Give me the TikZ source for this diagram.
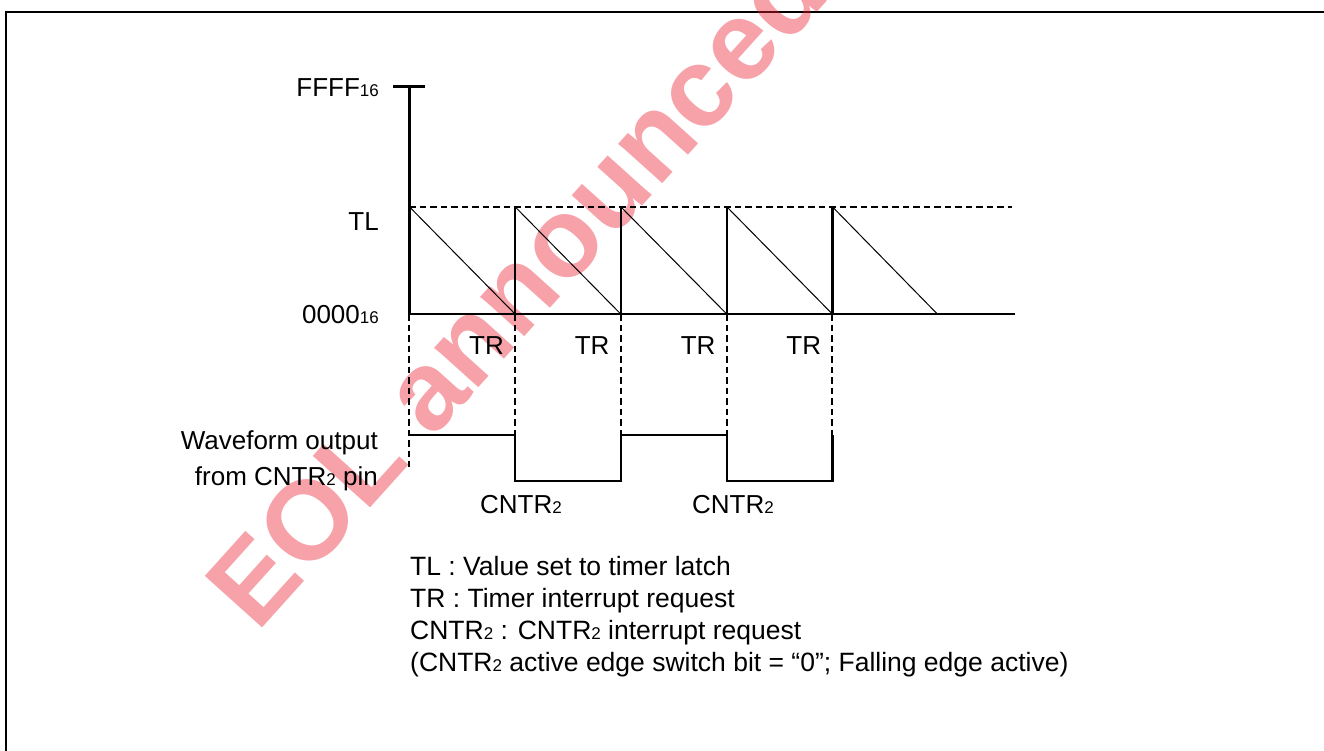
\documentclass[tikz,border=0pt]{standalone}
\usepackage{fontspec}
\setmainfont{Liberation Sans}
\newcommand{\sbs}[1]{{\fontsize{17}{17}\selectfont #1}}
\begin{document}
\begin{tikzpicture}[x=1pt,y=-1pt,
  lbl/.style={inner sep=0pt, font=\fontsize{26}{30}\selectfont},
  lgd/.style={inner sep=0pt, font=\fontsize{26.5}{30}\selectfont},
  solidln/.style={line width=2.4pt},
  thinln/.style={line width=1pt},
  dashln/.style={line width=2.2pt, dash pattern=on 6.5pt off 4pt},
  framel/.style={line width=2.6pt},
]
\useasboundingbox (0,0) rectangle (1324,751);
% frame
\coordinate (fbl) at (6,760);
\coordinate (ftl) at (6,12);
\coordinate (ftr) at (1335,12);
\draw[framel] (fbl) -- (ftl) -- (ftr);

% watermark
\node[inner sep=0pt, rotate=48, text={rgb,255:red,235;green,30;blue,50}, opacity=0.42,
      font=\bfseries\fontsize{112}{112}\selectfont] (wm) at (515,288) {EOL announced};

% coordinates
\foreach \i/\x in {0/409.3,1/515,2/620.7,3/726.7,4/832.3}{
  \coordinate (top\i) at (\x,206.7);
  \coordinate (bot\i) at (\x,314);
  \coordinate (hi\i) at (\x,435);
  \coordinate (lo\i) at (\x,480.7);
}
\coordinate (ffff) at (409.3,86.7);
\coordinate (tickL) at (393,86.7);
\coordinate (tickR) at (425,86.7);
\coordinate (tlend) at (1012,206.7);
\coordinate (baseend) at (1015,314);
\coordinate (sawend) at (937.3,314);
\coordinate (d0end) at (409.3,466.7);

% axis
\draw[solidln] (bot0) -- (ffff);
\draw[solidln] (tickL) -- (tickR);
\draw[dashln] (top0) -- (tlend);
\draw[solidln] (bot0) -- (baseend);

% sawtooth
\draw[thinln] (top0) -- (bot1);
\draw[thinln] (top1) -- (bot2);
\draw[thinln] (top2) -- (bot3);
\draw[thinln] (top3) -- (bot4);
\draw[thinln] (top4) -- (sawend);
\foreach \i in {1,2,3,4}{\draw[solidln] (bot\i) -- (top\i);}

% dashed verticals
\draw[dashln] (bot0) -- (d0end);
\foreach \i in {1,2,3,4}{\draw[dashln] (bot\i) -- (hi\i);}

% waveform
\draw[solidln] (hi0) -- (hi1) -- (lo1) -- (lo2) -- (hi2) -- (hi3) -- (lo3) -- (lo4) -- (hi4);

% axis labels
\node[lbl, anchor=base east] (lffff) at (379,97) {FFFF\sbs{16}};
\node[lbl, anchor=base east] (ltl) at (379,231) {TL};
\node[lbl, anchor=base east] (l0000) at (379,323) {0000\sbs{16}};

% TR labels
\node[lbl, anchor=base east] (tr1) at (504,354) {TR};
\node[lbl, anchor=base east] (tr2) at (609.7,354) {TR};
\node[lbl, anchor=base east] (tr3) at (715.7,354) {TR};
\node[lbl, anchor=base east] (tr4) at (821.3,354) {TR};

% waveform labels
\node[lbl, anchor=base east] (wf1) at (378,449) {Waveform output};
\node[lbl, anchor=base east] (wf2) at (378,485) {from CNTR\sbs{2} pin};
\node[lbl, anchor=base] (c1) at (521,513) {CNTR\sbs{2}};
\node[lbl, anchor=base] (c2) at (733,513) {CNTR\sbs{2}};

% legend
\node[lgd, anchor=base west] (lg1) at (410,575) {TL : Value set to timer latch};
\node[lgd, anchor=base west] (lg2) at (410,607) {TR : Timer interrupt request};
\node[lgd, anchor=base west] (lg3) at (410,639) {CNTR\sbs{2} : CNTR\sbs{2} interrupt request};
\node[lgd, anchor=base west] (lg4) at (410,671) {(CNTR\sbs{2} active edge switch bit = “0”; Falling edge active)};
\end{tikzpicture}
\end{document}
